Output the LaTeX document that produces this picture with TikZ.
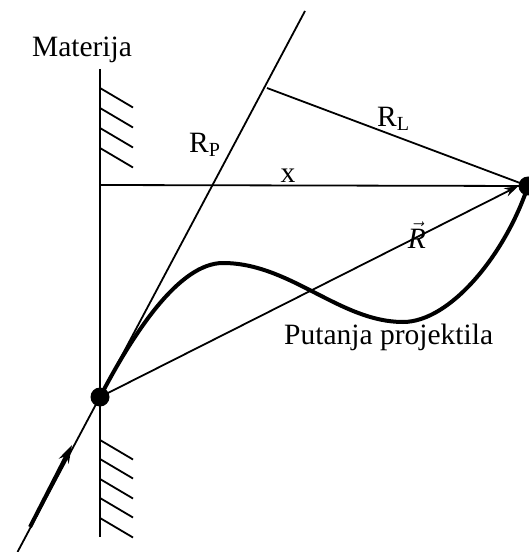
\documentclass[tikz,border=0pt]{standalone}
\usepackage{fontspec}
\setmainfont{Liberation Serif}
\usetikzlibrary{arrows.meta}
\begin{document}
\begin{tikzpicture}[x=1bp,y=-1bp,
  thin line/.style={line width=1.8bp},
  thick line/.style={line width=4bp},
  hatch/.style={line width=1.8bp},
  dotnode/.style={circle,fill=black,inner sep=0pt,minimum size=19bp},
  lbl/.style={inner sep=0pt,font=\fontsize{29.5bp}{32bp}\selectfont}
]
\useasboundingbox (0,0) rectangle (529,552);
% points
\node[dotnode] (O) at (100,397) {};
\node[dotnode] (T) at (528,186) {};
\coordinate (wallTop) at (100,69);
\coordinate (wallBot) at (100,537);
\coordinate (lineTop) at (305,11);
\coordinate (lineBot) at (17.5,552);
\coordinate (foot) at (267,88);
\coordinate (xstart) at (100,185);
\coordinate (arrS) at (30,527);
\coordinate (arrE) at (72,445);
% wall
\draw[thin line] (wallTop) -- (wallBot);
\foreach \y in {88,108,128,148,440,459,479,498,518}
  \draw[hatch] (100,\y) -- (133,\y+19.5);
% diagonal line
\draw[thin line] (lineBot) -- (lineTop);
\draw[thick line,-{Stealth[length=18bp,width=11bp]}] (arrS) -- (arrE);
% x line
\draw[thin line] (xstart) -- (T.center);
% R_L
\draw[thin line] (foot) -- (T.center);
% R vector
\draw[thin line,-{Stealth[length=14bp,width=9bp]}] (O.center) -- (T.west);
% trajectory
\draw[thick line] (O.center) .. controls (135,330) and (180,263) .. (223,263)
  .. controls (290,263) and (340,322) .. (403,322)
  .. controls (450,322) and (505,255) .. (T.center);
% labels
\node[lbl,anchor=base] (mat) at (82,57) {Materija};
\node[lbl,anchor=base west] (rp) at (189,153) {R\raisebox{-4bp}{\fontsize{20bp}{20bp}\selectfont P}};
\node[lbl,anchor=base west] (rl) at (377,127) {R\raisebox{-4bp}{\fontsize{20bp}{20bp}\selectfont L}};
\node[lbl,anchor=base] (xl) at (288,183) {x};
\node[lbl,anchor=base] (rv) at (417,248) {$\vec{\mbox{\itshape R}}$};
\node[lbl,anchor=base west] (put) at (284,344) {Putanja projektila};
\end{tikzpicture}
\end{document}
